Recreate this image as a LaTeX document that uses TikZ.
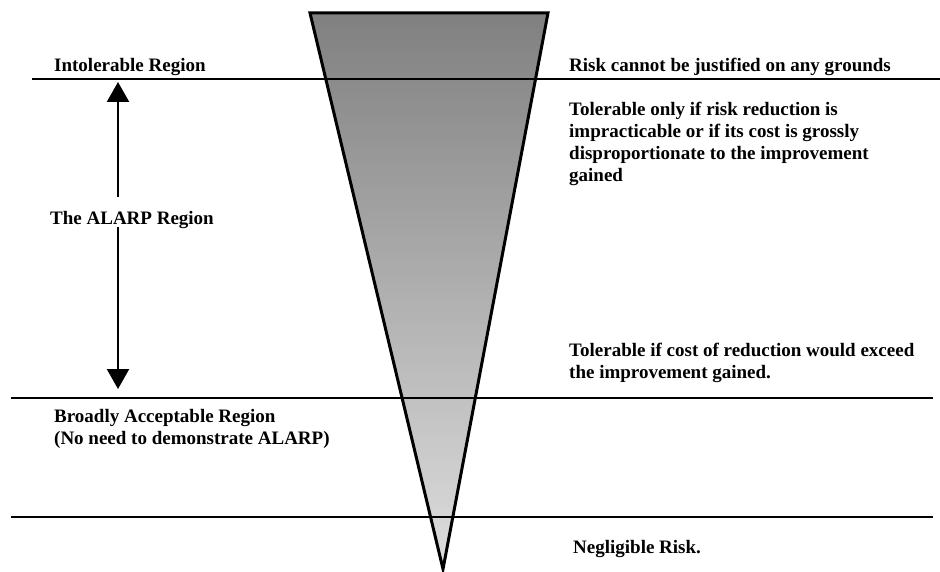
\documentclass[tikz,border=0pt]{standalone}
\usepackage{fontspec}
\setmainfont{Liberation Serif}
\usetikzlibrary{arrows.meta,positioning}
\definecolor{funneltop}{RGB}{128,128,128}
\definecolor{funnelbot}{RGB}{222,222,222}
\tikzset{>={Triangle[width=22pt,length=20pt]}}
\tikzset{
  regionlabel/.style={inner sep=0pt, font=\bfseries\fontsize{19}{22}\selectfont},
  sidenote/.style={regionlabel, align=left, anchor=north west},
  riskline/.style={line width=2.6pt},
}

\begin{document}
\begin{tikzpicture}[x=1pt, y=-1pt]
            \useasboundingbox (0,0) rectangle (940,572);

            % the risk funnel
            \coordinate (ftl) at (310,13);
            \coordinate (ftr) at (548,13);
            \coordinate (fapex) at (443,569);
            \shade[top color=funneltop, bottom color=funnelbot]
              (ftl) -- (ftr) -- (fapex) -- cycle;

            % region boundaries
            \coordinate (l1w) at (32,79);
            \coordinate (l1e) at (940,79);
            \coordinate (l2w) at (11,398);
            \coordinate (l2e) at (933,398);
            \coordinate (l3w) at (11,517);
            \coordinate (l3e) at (933,517);
            \draw[riskline] (l1w) -- (l1e);
            \draw[riskline] (l2w) -- (l2e);
            \draw[riskline] (l3w) -- (l3e);

            \draw[line width=3pt, line join=miter] (ftl) -- (ftr) -- (fapex) -- cycle;

            % left labels
            \node [regionlabel,
              anchor=base west
            ] (intol) at (54,72) {Intolerable Region};

            \node [regionlabel,
              anchor=base
            ] (alarp) at (132,225) {The ALARP Region};

            \node [sidenote
            ] (broad) at (54,409) {Broadly Acceptable Region\\(No need to demonstrate ALARP)};

            % right labels
            \node [regionlabel,
              anchor=base west
            ] (nogrounds) at (569,72) {Risk cannot be justified on any grounds};

            \node [sidenote
            ] (tolonly) at (569,102) {Tolerable only if risk reduction is\\impracticable or if its cost is grossly\\disproportionate to the improvement\\gained};

            \node [sidenote
            ] (tolcost) at (569,343) {Tolerable if cost of reduction would exceed\\the improvement gained.};

            \node [regionlabel,
              anchor=base west
            ] (neglig) at (573,553) {Negligible Risk.};

            % ALARP span
            \coordinate (arrtop) at (118,82);
            \coordinate (arrbot) at (118,389);
            \coordinate (gaptop) at (118,197);
            \coordinate (gapbot) at (118,227);
            \draw[->, line width=2.4pt] (gaptop) -- (arrtop);
            \draw[->, line width=2.4pt] (gapbot) -- (arrbot);
          \end{tikzpicture}
\end{document}
